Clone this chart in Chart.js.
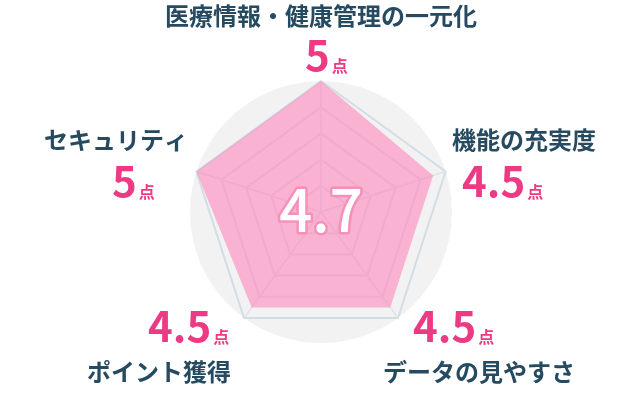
<!DOCTYPE html>
<html lang="ja">
<head>
<meta charset="utf-8">
<script src="https://cdn.jsdelivr.net/npm/chart.js@4/dist/chart.umd.min.js"></script>
<style>
    html, body { margin: 0; padding: 0; background: #fff; }
    #wrap { width: 642px; height: 405px; position: relative; }
</style>
</head>
<body>
<div id="wrap"><canvas id="radarChart" width="642" height="405"></canvas></div>
<script>
// DATA
const categories = ['医療情報・健康管理の一元化', '機能の充実度', 'データの見やすさ', 'ポイント獲得', 'セキュリティ'];
const scores = [5, 4.5, 4.5, 4.5, 5];
const scoreLabels = ['5', '4.5', '4.5', '4.5', '5'];
const totalScore = '4.7';
const scaleTicks = [0, 1, 2, 3, 4, 5];

// text placement, offsets from the radar centre
const labelLayout = [
    { lx: 0, ly: -196, la: 'center', sx: -16, sy: -141 },
    { lx: 131, ly: -72, la: 'left', sx: 141, sy: -15 },
    { lx: 62, ly: 160, la: 'left', sx: 92, sy: 130 },
    { lx: -234, ly: 160, la: 'left', sx: -173, sy: 130 },
    { lx: -277, ly: -72, la: 'left', sx: -209, sy: -15 }
];

const NAVY = '#264a60';
const PINK = '#ec3a84';
const FONT = '"Noto Sans CJK JP", "Noto Sans", sans-serif';

// grey disc behind the grid
const backdropPlugin = {
    id: 'backdrop',
    beforeDraw(chart) {
        const s = chart.scales.r;
        const ctx = chart.ctx;
        ctx.save();
        ctx.beginPath();
        ctx.arc(s.xCenter, s.yCenter, s.drawingArea, 0, Math.PI * 2);
        ctx.fillStyle = '#f2f2f2';
        ctx.fill();
        ctx.restore();
    }
};

// axis names, scores and the centre value
const textPlugin = {
    id: 'texts',
    afterDraw(chart) {
        const s = chart.scales.r;
        const ctx = chart.ctx;
        const cx = s.xCenter, cy = s.yCenter;
        ctx.save();

        categories.forEach((name, i) => {
            const l = labelLayout[i];
            ctx.font = 'bold 24px ' + FONT;
            ctx.fillStyle = NAVY;
            ctx.textAlign = l.la;
            ctx.textBaseline = 'middle';
            ctx.fillText(name, cx + l.lx, cy + l.ly);

            ctx.textAlign = 'left';
            ctx.textBaseline = 'alphabetic';
            ctx.fillStyle = PINK;
            ctx.font = 'bold 42px ' + FONT;
            const w = ctx.measureText(scoreLabels[i]).width;
            ctx.fillText(scoreLabels[i], cx + l.sx, cy + l.sy);
            ctx.font = 'bold 16px ' + FONT;
            ctx.fillText('点', cx + l.sx + w + 2, cy + l.sy + 1);
        });

        ctx.font = '500 58px ' + FONT;
        ctx.textAlign = 'center';
        ctx.textBaseline = 'middle';
        ctx.lineJoin = 'round';
        ctx.lineWidth = 5;
        ctx.strokeStyle = '#f590ba';
        ctx.strokeText(totalScore, cx, cy - 2);
        ctx.fillStyle = '#ffffff';
        ctx.fillText(totalScore, cx, cy - 2);
        ctx.restore();
    }
};

new Chart(document.getElementById('radarChart'), {
    type: 'radar',
    data: {
        labels: categories,
        datasets: [{
            data: scores,
            backgroundColor: 'rgba(255,118,178,0.52)',
            borderWidth: 0,
            pointRadius: 0,
            pointHoverRadius: 0
        }]
    },
    options: {
        responsive: false,
        animation: false,
        devicePixelRatio: 1,
        layout: { padding: { top: 81, bottom: 62, left: 150, right: 150 } },
        plugins: { legend: { display: false }, tooltip: { enabled: false } },
        scales: {
            r: {
                min: scaleTicks[0],
                max: scaleTicks[scaleTicks.length - 1],
                ticks: { display: false, stepSize: 1 },
                pointLabels: { display: false },
                grid: {
                    color: ctx => ctx.tick && ctx.tick.value === 5 ? '#d3dde5' : '#e2e2e6',
                    lineWidth: 2
                },
                angleLines: { color: '#e0e3e8', lineWidth: 1.5 }
            }
        }
    },
    plugins: [backdropPlugin, textPlugin]
});
</script>
</body>
</html>
